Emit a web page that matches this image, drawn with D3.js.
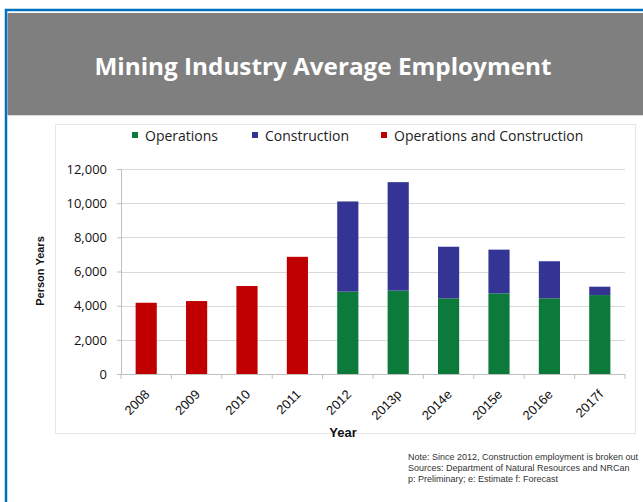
<!DOCTYPE html>
<html>
<head>
<meta charset="utf-8">
<script src="https://cdn.jsdelivr.net/npm/d3@7"></script>
<style>
  body { margin: 0; background: #fff; }
  svg { display: block; font-family: "Open Sans", sans-serif; }
</style>
</head>
<body>
<svg id="chart" width="643" height="502"></svg>
<script>
// data
var years = ['2008', '2009', '2010', '2011', '2012', '2013p', '2014e', '2015e', '2016e', '2017f'];
var operations = [0, 0, 0, 0, 4820, 4880, 4430, 4720, 4430, 4620];
var construction = [0, 0, 0, 0, 5280, 6350, 3020, 2560, 2170, 490];
var opsAndCons = [4170, 4270, 5150, 6860, 0, 0, 0, 0, 0, 0];
var yTicks = [0, 2000, 4000, 6000, 8000, 10000, 12000];
var seriesNames = ['Operations', 'Construction', 'Operations and Construction'];
var seriesColors = ['#0b7a3a', '#343495', '#c00000'];
var notes = [
  'Note:  Since 2012, Construction employment is broken out',
  'Sources: Department of Natural Resources and NRCan',
  'p: Preliminary; e: Estimate f: Forecast'
];

var svg = d3.select('#chart');

// slide frame
svg.append('rect').attr('x', 6).attr('y', 10).attr('width', 640).attr('height', 495)
  .attr('fill', 'none').attr('stroke', '#0070c0').attr('stroke-width', 2.5);
svg.append('rect').attr('x', 7.5).attr('y', 13).attr('width', 640).attr('height', 102).attr('fill', '#7f7f7f');
svg.append('line').attr('x1', 7.5).attr('x2', 643).attr('y1', 115.5).attr('y2', 115.5).attr('stroke', '#d8d8d8');
svg.append('text').attr('x', 323).attr('y', 75).attr('text-anchor', 'middle')
  .attr('fill', '#fff').style('font-size', '24px').style('font-weight', 'bold')
  .attr('textLength', 457).attr('lengthAdjust', 'spacingAndGlyphs')
  .text('Mining Industry Average Employment');

// chart box
svg.append('rect').attr('x', 55.5).attr('y', 124.5).attr('width', 580).attr('height', 309)
  .attr('fill', '#fff').attr('stroke', '#e6e6e6');

var margin = {left: 121, right: 625, top: 169, bottom: 374};
var x = d3.scaleBand().domain(years).range([margin.left, margin.right]).paddingInner(0.58).paddingOuter(0.29);
var y = d3.scaleLinear().domain([0, 12000]).range([margin.bottom, margin.top]);

// grid
svg.append('g').selectAll('line').data(yTicks.slice(1)).join('line')
  .attr('x1', margin.left).attr('x2', margin.right)
  .attr('y1', function(d){ return Math.round(y(d)) + 0.5; })
  .attr('y2', function(d){ return Math.round(y(d)) + 0.5; })
  .attr('stroke', '#d9d9d9').attr('stroke-width', 1.2);

// y axis
var yAxis = svg.append('g').attr('transform', 'translate(' + margin.left + ',0)')
  .call(d3.axisLeft(y).tickValues(yTicks).tickFormat(d3.format(',')).tickSize(4).tickPadding(10));
yAxis.select('.domain').attr('stroke', '#bfbfbf');
yAxis.selectAll('.tick line').attr('stroke', '#bfbfbf');
yAxis.selectAll('text').style('font-size', '13px').style('font-family', '"Open Sans", sans-serif').attr('fill', '#111');

// stacked bars
var rows = years.map(function(yr, i){
  return {year: yr, Operations: operations[i], Construction: construction[i], 'Operations and Construction': opsAndCons[i]};
});
var stack = d3.stack().keys(seriesNames)(rows);
svg.append('g').selectAll('g').data(stack).join('g')
  .attr('fill', function(d, i){ return seriesColors[i]; })
  .selectAll('rect').data(function(d){ return d.filter(function(p){ return p[1] > p[0]; }); }).join('rect')
  .attr('x', function(d){ return x(d.data.year); })
  .attr('width', x.bandwidth())
  .attr('y', function(d){ return y(d[1]); })
  .attr('height', function(d){ return y(d[0]) - y(d[1]); });

// x axis with ticks between categories
var xg = svg.append('g');
xg.append('line').attr('x1', margin.left).attr('x2', margin.right)
  .attr('y1', margin.bottom + 0.5).attr('y2', margin.bottom + 0.5).attr('stroke', '#bfbfbf');
var bounds = d3.range(years.length + 1).map(function(i){ return margin.left + i * (margin.right - margin.left) / years.length; });
xg.selectAll('line.tk').data(bounds).join('line').attr('class', 'tk')
  .attr('x1', function(d){ return d; }).attr('x2', function(d){ return d; })
  .attr('y1', margin.bottom).attr('y2', margin.bottom + 5).attr('stroke', '#bfbfbf');
xg.selectAll('text').data(years).join('text')
  .attr('transform', function(d){ return 'translate(' + (x(d) + x.bandwidth() / 2 + 1) + ',' + (margin.bottom + 18) + ') rotate(-45)'; })
  .attr('text-anchor', 'end').attr('dy', '0.35em')
  .style('font-size', '13px').style('font-family', '"Liberation Sans", Arial, sans-serif').attr('fill', '#111')
  .text(function(d){ return d; });

// axis titles
svg.append('text').attr('x', 343).attr('y', 437).attr('text-anchor', 'middle')
  .style('font-size', '13px').style('font-weight', 'bold').attr('fill', '#111')
  .style('font-family', '"Liberation Sans", Arial, sans-serif').text('Year');
svg.append('text').attr('transform', 'translate(44,271) rotate(-90)').attr('text-anchor', 'middle')
  .style('font-size', '11px').style('font-weight', 'bold').attr('fill', '#111')
  .style('font-family', '"Liberation Sans", Arial, sans-serif').text('Person Years');

// legend
var legendX = [132, 252, 381];
var lg = svg.append('g').selectAll('g').data(seriesNames).join('g')
  .attr('transform', function(d, i){ return 'translate(' + legendX[i] + ',132)'; });
lg.append('rect').attr('width', 6).attr('height', 6).attr('fill', function(d, i){ return seriesColors[i]; });
lg.append('text').attr('x', 13).attr('y', 4).attr('dy', '0.35em')
  .style('font-size', '14px').attr('fill', '#222').text(function(d){ return d; });

// notes
svg.append('g').selectAll('text').data(notes).join('text')
  .attr('x', 408).attr('y', function(d, i){ return 460 + i * 11; })
  .style('font-size', '9px').style('font-family', '"Liberation Sans", Arial, sans-serif')
  .attr('fill', '#333').text(function(d){ return d; });
</script>
</body>
</html>
